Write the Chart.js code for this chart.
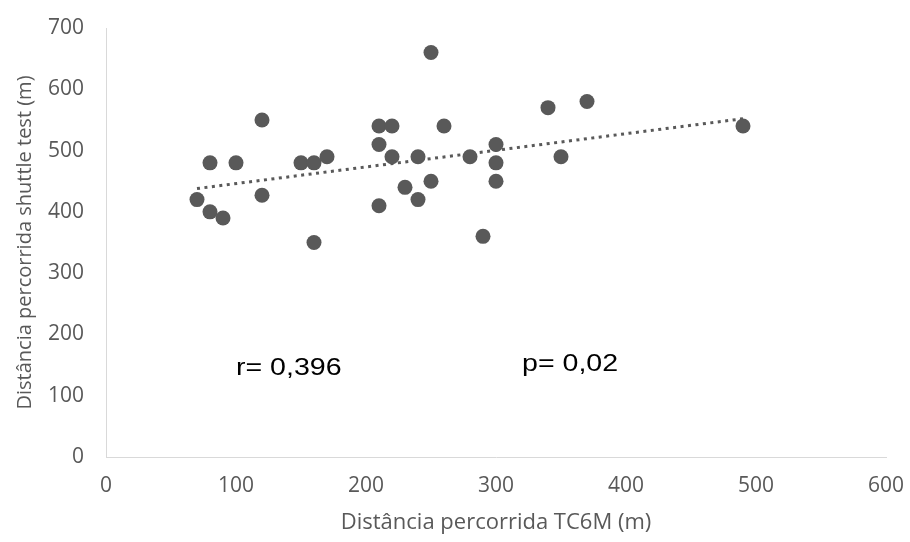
<!DOCTYPE html>
<html lang="pt">
<head>
  <meta charset="UTF-8" />
  <title>TC6M vs shuttle test</title>
  <script src="https://cdn.jsdelivr.net/npm/chart.js"></script>
  <style>
    html, body { margin: 0; padding: 0; background: #fff; }
    .chart-container { width: 910px; height: 542px; position: relative; }
  </style>
</head>
<body>
  <div class="chart-container">
    <canvas id="scatterChart"></canvas>
  </div>

  <script>
    // distancia TC6M (m) e distancia shuttle test (m)
    const tc6m = [70, 80, 80, 90, 100, 120, 120, 150, 160, 160, 170, 210, 210, 210, 220, 220,
                  230, 240, 240, 250, 250, 260, 280, 290, 300, 300, 300, 340, 350, 370, 490];
    const shuttle = [420, 480, 400, 390, 480, 550, 427, 480, 480, 350, 490, 540, 510, 410, 540, 490,
                     440, 490, 420, 660, 450, 540, 490, 360, 510, 480, 450, 570, 490, 580, 540];

    // linha de tendencia (pontas)
    const trendX = [70, 490];
    const trendY = [438, 552];

    const xTicks = [0, 100, 200, 300, 400, 500, 600];
    const yTicks = [0, 100, 200, 300, 400, 500, 600, 700];

    const notes = ['r= 0,396', 'p= 0,02'];

    const gray = '#595959';
    const axisGray = '#d9d9d9';

    // texto r e p, ancorado em coordenadas dos eixos
    const notesPlugin = {
      id: 'notes',
      afterDatasetsDraw(chart) {
        const { ctx, scales: { x, y } } = chart;
        const anchors = [[100, 133], [320, 140]];
        ctx.save();
        ctx.fillStyle = '#000';
        ctx.font = '24px "Liberation Sans", Arial, sans-serif';
        ctx.textBaseline = 'alphabetic';
        notes.forEach((t, i) => {
          ctx.save();
          ctx.translate(x.getPixelForValue(anchors[i][0]), y.getPixelForValue(anchors[i][1]));
          ctx.scale(1.19, 1);
          ctx.fillText(t, 0, 0);
          ctx.restore();
        });
        ctx.restore();
      }
    };

    new Chart(document.getElementById('scatterChart'), {
      type: 'scatter',
      data: {
        datasets: [
          {
            label: 'Shuttle test',
            data: tc6m.map((v, i) => ({ x: v, y: shuttle[i] })),
            backgroundColor: gray,
            borderColor: gray,
            pointRadius: 7.5,
            pointHoverRadius: 7.5,
            borderWidth: 0
          },
          {
            type: 'line',
            label: 'Linear',
            data: trendX.map((v, i) => ({ x: v, y: trendY[i] })),
            borderColor: gray,
            borderWidth: 3,
            borderDash: [3, 4.5],
            pointRadius: 0,
            fill: false
          }
        ]
      },
      options: {
        responsive: true,
        maintainAspectRatio: false,
        animation: false,
        layout: { padding: { top: 28, right: 24, left: 0, bottom: 0 } },
        plugins: {
          legend: { display: false },
          tooltip: { enabled: false }
        },
        scales: {
          x: {
            type: 'linear',
            min: 0,
            max: 600,
            afterBuildTicks: s => { s.ticks = xTicks.map(v => ({ value: v })); },
            afterFit: s => {
              s.height = 85;
              s.paddingLeft = 0;
              s.paddingRight = 0;
            },
            grid: { display: true, color: 'transparent', drawTicks: false },
            border: { display: true, color: axisGray, width: 1 },
            ticks: {
              color: gray,
              padding: 16,
              font: { family: '"Open Sans"', size: 21 }
            },
            title: {
              display: true,
              text: 'Distância percorrida TC6M (m)',
              color: gray,
              font: { family: '"Open Sans"', size: 22 },
              padding: { top: 0, bottom: 6 }
            }
          },
          y: {
            type: 'linear',
            min: 0,
            max: 700,
            afterBuildTicks: s => { s.ticks = yTicks.map(v => ({ value: v })); },
            afterFit: s => {
              s.width = 106;
              s.paddingTop = 0;
              s.paddingBottom = 0;
            },
            grid: { display: true, color: 'transparent', drawTicks: false },
            border: { display: true, color: axisGray, width: 1 },
            ticks: {
              color: gray,
              padding: 22,
              font: { family: '"Open Sans"', size: 21 }
            },
            title: {
              display: true,
              text: 'Distância percorrida shuttle test (m)',
              color: gray,
              font: { family: '"Open Sans"', size: 20 },
              padding: { top: 13, bottom: 0 }
            }
          }
        }
      },
      plugins: [notesPlugin]
    });
  </script>
</body>
</html>
